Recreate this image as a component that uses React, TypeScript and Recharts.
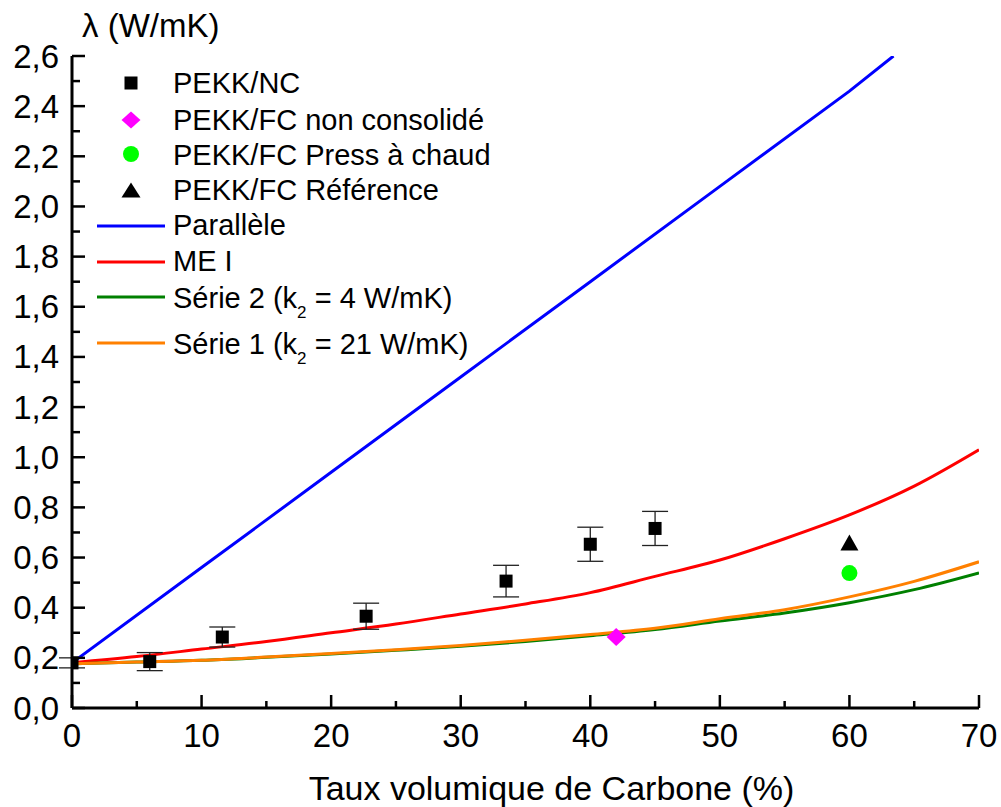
import React from 'react';
import { ComposedChart, Line, Scatter, XAxis, YAxis, ErrorBar, Legend, Label } from 'recharts';

const FONT = '"Liberation Sans", Arial, Helvetica, sans-serif';

// ---- Data ----
const parallelX = [0, 10, 20, 30, 40, 50, 60, 63.4];
const parallelY = [0.18, 0.56, 0.94, 1.32, 1.7, 2.08, 2.46, 2.6];

const meX = [0, 5, 10, 15, 20, 25, 30, 35, 40, 45, 50, 55, 60, 65, 70];
const meY = [0.18, 0.205, 0.235, 0.265, 0.3, 0.335, 0.375, 0.415, 0.46, 0.525, 0.59, 0.675, 0.77, 0.885, 1.03];

const serie2X = [0, 5, 10, 15, 20, 25, 30, 35, 40, 45, 50, 55, 60, 65, 70];
const serie2Y = [0.176, 0.183, 0.19, 0.202, 0.215, 0.23, 0.246, 0.265, 0.288, 0.313, 0.347, 0.379, 0.42, 0.472, 0.539];

const serie1X = [0, 5, 10, 15, 20, 25, 30, 35, 40, 45, 50, 55, 60, 65, 70];
const serie1Y = [0.176, 0.183, 0.19, 0.203, 0.217, 0.232, 0.249, 0.27, 0.293, 0.318, 0.356, 0.392, 0.443, 0.505, 0.583];

const ncX = [0, 6, 11.6, 22.7, 33.5, 40, 45];
const ncY = [0.18, 0.185, 0.283, 0.366, 0.506, 0.653, 0.716];
const ncErr = [0.02, 0.036, 0.04, 0.052, 0.063, 0.068, 0.068];

const fcNonX = [42];
const fcNonY = [0.283];
const fcPressX = [60];
const fcPressY = [0.538];
const fcRefX = [60];
const fcRefY = [0.66];

const xTicks = [0, 5, 10, 15, 20, 25, 30, 35, 40, 45, 50, 55, 60, 65, 70];
const yTicks = [0, 0.1, 0.2, 0.3, 0.4, 0.5, 0.6, 0.7, 0.8, 0.9, 1.0, 1.1, 1.2, 1.3, 1.4, 1.5, 1.6, 1.7, 1.8, 1.9, 2.0, 2.1, 2.2, 2.3, 2.4, 2.5, 2.6];

const legendMarkers = ['PEKK/NC', 'PEKK/FC non consolidé', 'PEKK/FC Press à chaud', 'PEKK/FC Référence'];
const legendLines = ['Parallèle', 'ME I'];

const zip = (xs: number[], ys: number[]) => xs.map((x, i) => ({ x, y: ys[i] }));
const parallelData = zip(parallelX, parallelY);
const meData = zip(meX, meY);
const serie2Data = zip(serie2X, serie2Y);
const serie1Data = zip(serie1X, serie1Y);
const ncData = ncX.map((x, i) => ({ x, y: ncY[i], err: ncErr[i] }));
const fcNonData = zip(fcNonX, fcNonY);
const fcPressData = zip(fcPressX, fcPressY);
const fcRefData = zip(fcRefX, fcRefY);

const BLUE = '#0000ff';
const RED = '#ff0000';
const GREEN = '#008000';
const ORANGE = '#ff8000';
const MAGENTA = '#ff00ff';
const LIME = '#00ff00';

const isMajorX = (v: number) => Math.round(v) % 10 === 0;
const isMajorY = (v: number) => Math.round(v * 10) % 2 === 0;
const fmtY = (v: number) => v.toFixed(1).replace('.', ',');

const BottomTick = (props: any) => {
  const { x, y, payload } = props;
  const v = payload.value;
  const major = isMajorX(v);
  return (
    <g>
      <line x1={x} x2={x} y1={y} y2={y - (major ? 13 : 7)} stroke="#000" strokeWidth={2.5} />
      {major && (
        <text x={x} y={y + 39} textAnchor="middle" fontSize={33} fontFamily={FONT} fill="#000">
          {v}
        </text>
      )}
    </g>
  );
};

const TopTick = (props: any) => {
  const { x, y, payload } = props;
  const major = isMajorX(payload.value);
  return <line x1={x} x2={x} y1={y} y2={y + (major ? 13 : 7)} stroke="#000" strokeWidth={2.5} />;
};

const LeftTick = (props: any) => {
  const { x, y, payload } = props;
  const v = payload.value;
  const major = isMajorY(v);
  return (
    <g>
      <line x1={x} x2={x + (major ? 13 : 8)} y1={y} y2={y} stroke="#000" strokeWidth={2.5} />
      {major && (
        <text x={x - 13} y={y + 11.5} textAnchor="end" fontSize={33} fontFamily={FONT} fill="#000">
          {fmtY(v)}
        </text>
      )}
    </g>
  );
};

const RightTick = (props: any) => {
  const { x, y, payload } = props;
  const major = isMajorY(payload.value);
  return <line x1={x} x2={x - (major ? 13 : 8)} y1={y} y2={y} stroke="#000" strokeWidth={2.5} />;
};

const SquareShape = (p: any) => <rect x={p.cx - 6.5} y={p.cy - 6.5} width={13} height={13} fill="#000" />;
const DiamondShape = (p: any) => (
  <polygon points={`${p.cx},${p.cy - 9} ${p.cx + 9.5},${p.cy} ${p.cx},${p.cy + 9} ${p.cx - 9.5},${p.cy}`} fill={MAGENTA} />
);
const CircleShape = (p: any) => <circle cx={p.cx} cy={p.cy} r={8} fill={LIME} />;
const TriangleShape = (p: any) => (
  <polygon points={`${p.cx},${p.cy - 8} ${p.cx + 9},${p.cy + 8} ${p.cx - 9},${p.cy + 8}`} fill="#000" />
);

const LegendContent = () => {
  const mx = 131;
  const tx = 173;
  const fs = 29;
  const txt = { fontSize: fs, fontFamily: FONT, fill: '#000' } as any;
  return (
    <svg width={600} height={370} style={{ position: 'absolute', left: 0, top: 0, overflow: 'visible' }}>
      <rect x={mx - 6.5} y={83 - 6.5} width={13} height={13} fill="#000" />
      <text x={tx} y={93} {...txt}>{legendMarkers[0]}</text>
      <polygon points={`${mx},${120 - 8.5} ${mx + 9.5},120 ${mx},${120 + 8.5} ${mx - 9.5},120`} fill={MAGENTA} />
      <text x={tx} y={130} {...txt}>{legendMarkers[1]}</text>
      <circle cx={mx} cy={154} r={8} fill={LIME} />
      <text x={tx} y={165} {...txt}>{legendMarkers[2]}</text>
      <polygon points={`${mx},${190 - 7.5} ${mx + 9.5},${190 + 7.5} ${mx - 9.5},${190 + 7.5}`} fill="#000" />
      <text x={tx} y={200} {...txt}>{legendMarkers[3]}</text>
      <line x1={97} x2={165} y1={226} y2={226} stroke={BLUE} strokeWidth={3} />
      <text x={tx} y={235} {...txt}>{legendLines[0]}</text>
      <line x1={97} x2={165} y1={262} y2={262} stroke={RED} strokeWidth={3} />
      <text x={tx} y={271} {...txt}>{legendLines[1]}</text>
      <line x1={97} x2={165} y1={297} y2={297} stroke={GREEN} strokeWidth={3} />
      <text x={tx} y={308} {...txt}>
        Série 2 (k<tspan fontSize={17} dy={10}>2</tspan><tspan dy={-10}> = 4 W/mK)</tspan>
      </text>
      <line x1={97} x2={165} y1={343} y2={343} stroke={ORANGE} strokeWidth={3} />
      <text x={tx} y={354} {...txt}>
        Série 1 (k<tspan fontSize={17} dy={10}>2</tspan><tspan dy={-10}> = 21 W/mK)</tspan>
      </text>
    </svg>
  );
};

export default function App() {
  return (
    <div style={{ position: 'absolute', left: 0, top: 0, width: 1001, height: 807, background: '#fff' }}>
      <ComposedChart
        width={1001}
        height={807}
        margin={{ top: 56, right: 22, bottom: 0, left: 0 }}
        style={{ fontFamily: FONT }}
      >
        <XAxis
          xAxisId="b"
          dataKey="x"
          type="number"
          domain={[0, 70]}
          ticks={xTicks}
          interval={0}
          height={99}
          tickSize={0}
          tickMargin={0}
          tickLine={false}
          tick={<BottomTick />}
          axisLine={{ stroke: '#000', strokeWidth: 3 }}
          allowDataOverflow
        >
          <Label
            content={(p: any) => {
              const vb = p.viewBox || { x: 72, y: 708, width: 907 };
              return (
                <text x={vb.x + vb.width / 2 + 26} y={vb.y + 92} textAnchor="middle" fontSize={34} fontFamily={FONT} fill="#000">
                  Taux volumique de Carbone (%)
                </text>
              );
            }}
          />
        </XAxis>
        <XAxis
          xAxisId="t"
          orientation="top"
          type="number"
          domain={[0, 70]}
          ticks={xTicks}
          interval={0}
          height={0}
          tickSize={0}
          tickMargin={0}
          tickLine={false}
          tick={<TopTick />}
          axisLine={{ stroke: '#000', strokeWidth: 3 }}
          allowDataOverflow
        />
        <YAxis
          yAxisId="l"
          type="number"
          domain={[0, 2.6]}
          ticks={yTicks}
          interval={0}
          width={72}
          tickSize={0}
          tickMargin={0}
          tickLine={false}
          tick={<LeftTick />}
          axisLine={{ stroke: '#000', strokeWidth: 3 }}
          allowDataOverflow
        >
          <Label
            content={(p: any) => {
              const vb = p.viewBox || { x: 0, y: 56 };
              return (
                <text x={vb.x + 82} y={vb.y - 19} fontSize={33} fontFamily={FONT} fill="#000">
                  λ (W/mK)
                </text>
              );
            }}
          />
        </YAxis>
        <YAxis
          yAxisId="r"
          orientation="right"
          type="number"
          domain={[0, 2.6]}
          ticks={yTicks}
          interval={0}
          width={0}
          tickSize={0}
          tickMargin={0}
          tickLine={false}
          tick={<RightTick />}
          axisLine={{ stroke: '#000', strokeWidth: 3 }}
          allowDataOverflow
        />

        <Line xAxisId="b" yAxisId="l" data={parallelData} dataKey="y" type="linear" stroke={BLUE} strokeWidth={3} dot={false} isAnimationActive={false} />
        <Line xAxisId="b" yAxisId="l" data={meData} dataKey="y" type="monotone" stroke={RED} strokeWidth={3} dot={false} isAnimationActive={false} />
        <Line xAxisId="b" yAxisId="l" data={serie2Data} dataKey="y" type="monotone" stroke={GREEN} strokeWidth={3} dot={false} isAnimationActive={false} />
        <Line xAxisId="b" yAxisId="l" data={serie1Data} dataKey="y" type="monotone" stroke={ORANGE} strokeWidth={3} dot={false} isAnimationActive={false} />

        <Scatter xAxisId="b" yAxisId="l" data={ncData} dataKey="y" shape={<SquareShape />} isAnimationActive={false}>
          <ErrorBar dataKey="err" direction="y" width={13} stroke="#222" strokeWidth={1.3} />
        </Scatter>
        <Scatter xAxisId="b" yAxisId="l" data={fcNonData} dataKey="y" shape={<DiamondShape />} isAnimationActive={false} />
        <Scatter xAxisId="b" yAxisId="l" data={fcPressData} dataKey="y" shape={<CircleShape />} isAnimationActive={false} />
        <Scatter xAxisId="b" yAxisId="l" data={fcRefData} dataKey="y" shape={<TriangleShape />} isAnimationActive={false} />

        <Legend
          layout="horizontal"
          verticalAlign="middle"
          align="center"
          content={<LegendContent />}
          wrapperStyle={{ position: 'absolute', left: 0, top: 0, width: 600, height: 370, pointerEvents: 'none' }}
        />
      </ComposedChart>
    </div>
  );
}
